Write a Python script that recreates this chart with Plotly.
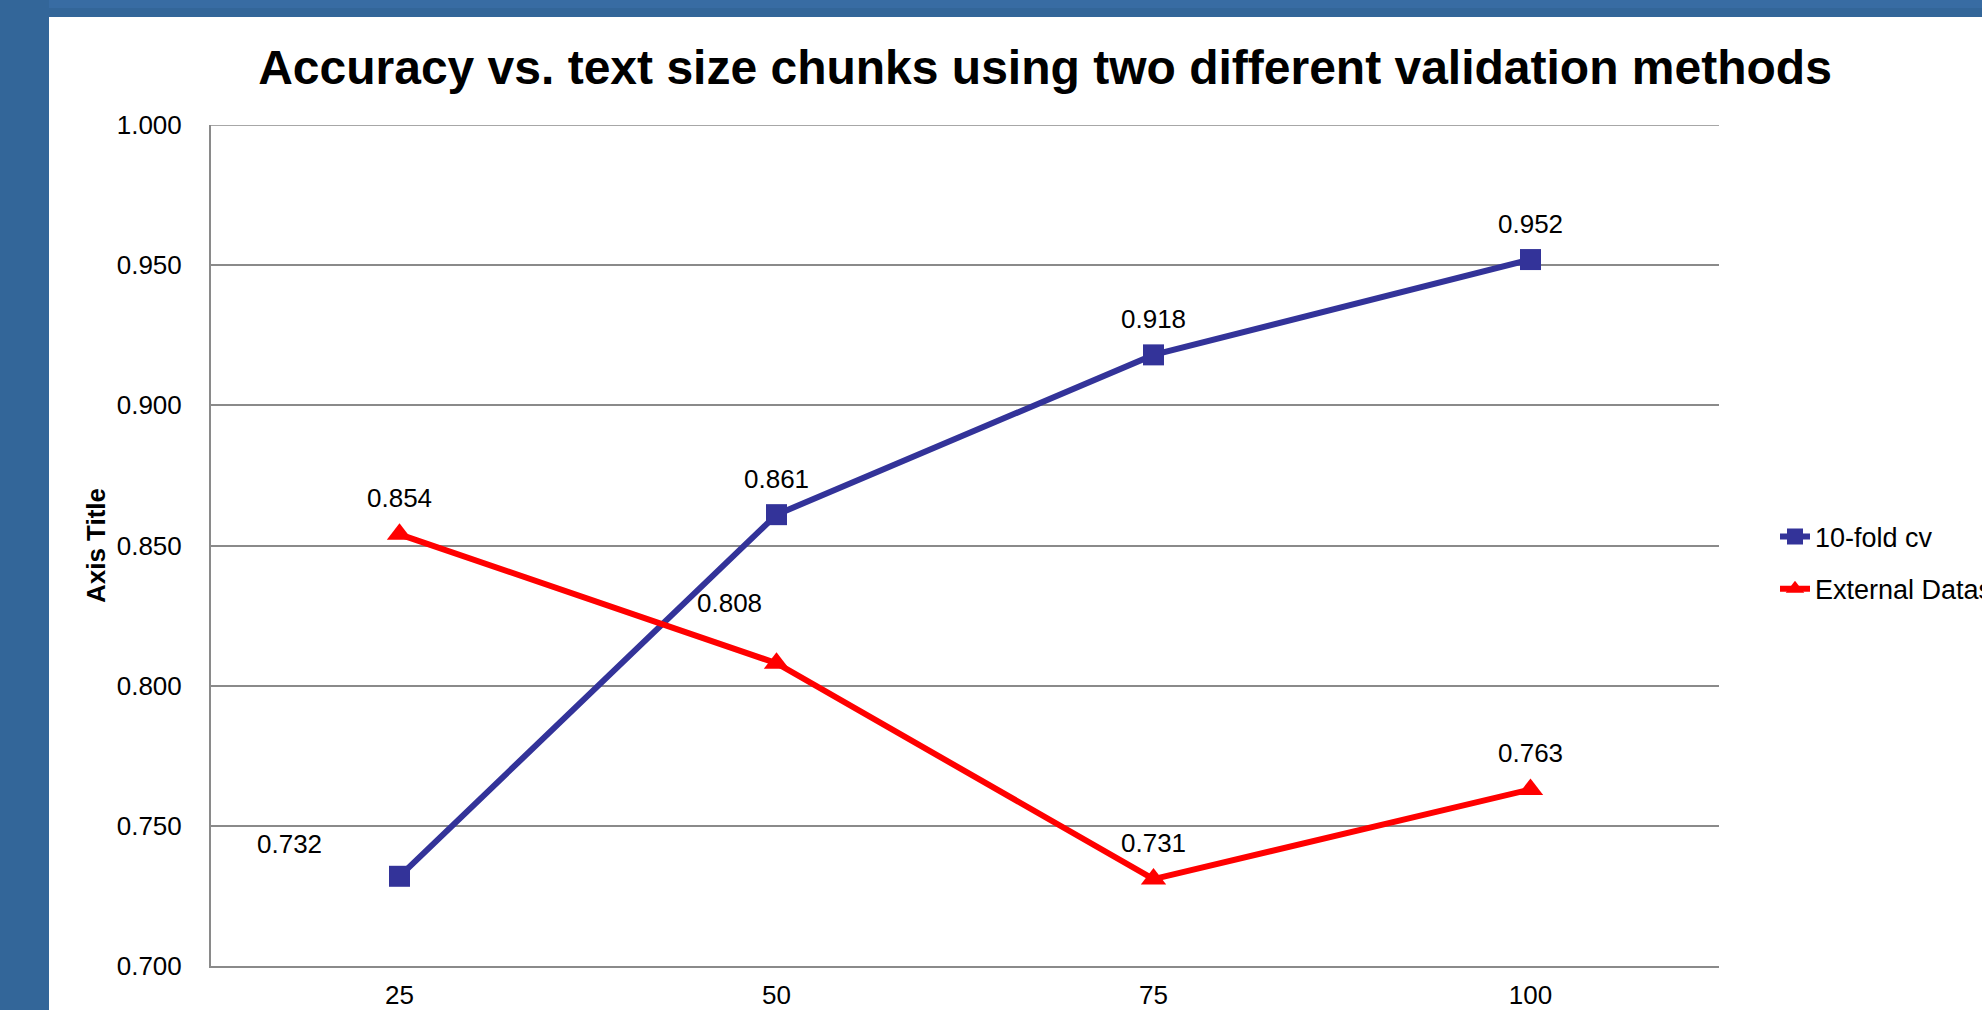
import plotly.graph_objects as go

# ---- data ----
categories = ["25", "50", "75", "100"]
cv_name = "10-fold cv"
cv_values = [0.732, 0.861, 0.918, 0.952]
ext_name = "External Dataset"
ext_values = [0.854, 0.808, 0.731, 0.763]
y_ticks = [0.70, 0.75, 0.80, 0.85, 0.90, 0.95, 1.00]
title_text = "Accuracy vs. text size chunks using two different validation methods"
y_title = "Axis Title"

# ---- styling / layout constants (pixels) ----
W, H = 1982, 1010
PL, PR, PT, PB = 211, 1719, 125, 966
FONT = "Liberation Sans, Arial, sans-serif"
BLUE = "#333399"
RED = "#FF0000"
GRID = "#8a8a8a"

# label offsets (dx, dy in px) for each point
cv_offsets = [(-110, 32), (0, 36), (0, 36), (0, 36)]
ext_offsets = [(0, 36), (-47, 60), (0, 36), (0, 36)]


def px_to_paper_x(px):
    return (px - PL) / (PR - PL)


def px_to_paper_y(py):
    return (PB - py) / (PB - PT)


fig = go.Figure()
fig.add_trace(go.Scatter(
    x=categories, y=cv_values, name=cv_name, mode="lines+markers",
    line=dict(color=BLUE, width=6),
    marker=dict(symbol="square", size=21, color=BLUE),
    legendgroup="a",
))
fig.add_trace(go.Scatter(
    x=categories, y=ext_values, name=ext_name, mode="lines+markers",
    line=dict(color=RED, width=6),
    marker=dict(symbol="triangle-up", size=22, color=RED),
    legendgroup="b",
))

annotations = []
for vals, offs in ((cv_values, cv_offsets), (ext_values, ext_offsets)):
    for i, (v, (dx, dy)) in enumerate(zip(vals, offs)):
        annotations.append(dict(
            x=i, y=v, xref="x", yref="y", text=f"{v:.3f}", showarrow=False,
            xshift=dx, yshift=dy, font=dict(family=FONT, size=26, color="black"),
            xanchor="center", yanchor="middle",
        ))

shapes = [
    # top gridline (1.000)
    dict(type="line", xref="paper", yref="y", x0=0, x1=1,
         y0=max(y_ticks), y1=max(y_ticks), line=dict(color=GRID, width=1.5),
         layer="below"),
    # left dark band
    dict(type="rect", xref="paper", yref="paper",
         x0=px_to_paper_x(0), x1=px_to_paper_x(49),
         y0=px_to_paper_y(H), y1=px_to_paper_y(0),
         fillcolor="#336699", line=dict(width=0), layer="above"),
    # top band (dark)
    dict(type="rect", xref="paper", yref="paper",
         x0=px_to_paper_x(49), x1=px_to_paper_x(W),
         y0=px_to_paper_y(17), y1=px_to_paper_y(0),
         fillcolor="#336699", line=dict(width=0), layer="above"),
    # top band lighter strip
    dict(type="rect", xref="paper", yref="paper",
         x0=px_to_paper_x(49), x1=px_to_paper_x(W),
         y0=px_to_paper_y(8), y1=px_to_paper_y(0),
         fillcolor="#386ca3", line=dict(width=0), layer="above"),
]

fig.update_layout(
    width=W, height=H,
    margin=dict(l=PL, r=W - PR, t=PT, b=H - PB, autoexpand=False),
    paper_bgcolor="white", plot_bgcolor="white",
    font=dict(family=FONT, size=26, color="black"),
    title=dict(text=title_text, x=1045 / W, xanchor="center",
               y=1 - 67 / H, yanchor="middle", xref="container", yref="container",
               font=dict(family=FONT, size=48, color="black", weight="bold")),
    showlegend=True,
    legend=dict(x=px_to_paper_x(1775), xanchor="left",
                y=px_to_paper_y(563), yanchor="middle",
                font=dict(family=FONT, size=27, color="black"),
                tracegroupgap=14, traceorder="grouped",
                bgcolor="rgba(0,0,0,0)"),
    annotations=annotations,
    shapes=shapes,
)

fig.update_xaxes(
    type="category", range=[-0.5, 3.5],
    showline=True, linecolor=GRID, linewidth=2,
    showgrid=False, ticks="", ticklabelstandoff=5,
    tickfont=dict(family=FONT, size=26, color="black"),
)
fig.update_yaxes(
    range=[0.7, 1.0], tickvals=y_ticks, tickformat=".3f",
    showline=True, linecolor=GRID, linewidth=2,
    showgrid=True, gridcolor=GRID, gridwidth=1.5, zeroline=False,
    ticks="", ticklabelstandoff=22,
    tickfont=dict(family=FONT, size=26, color="black"),
    title=dict(text=f"<b>{y_title}</b>", standoff=4,
               font=dict(family=FONT, size=26, color="black")),
)

fig.write_html("out.html")
